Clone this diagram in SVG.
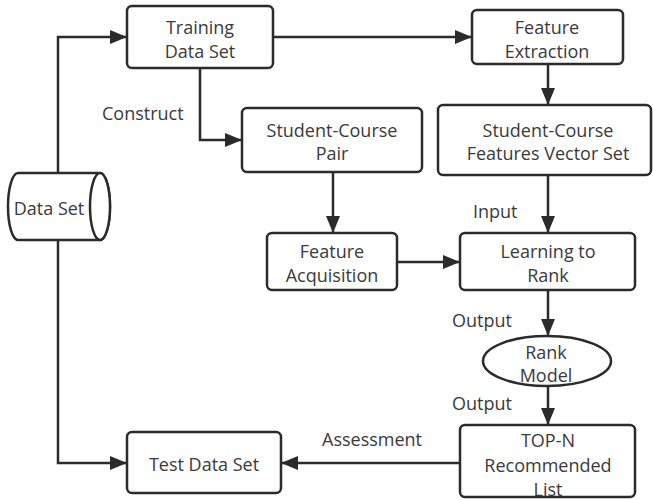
<svg xmlns="http://www.w3.org/2000/svg" width="653" height="500" viewBox="0 0 653 500">
<style>
.n{fill:#fff;stroke:#2b2b2b;stroke-width:2.5}
.c{fill:none;stroke:#2b2b2b;stroke-width:2.5}
text{font-family:"Open Sans","Noto Sans",sans-serif;font-size:18px;fill:#3a3a3a;text-anchor:middle}
.l{text-anchor:start}
</style>
<defs>
<marker id="a" viewBox="0 0 17 14" refX="16" refY="7" markerWidth="17" markerHeight="14" markerUnits="userSpaceOnUse" orient="auto">
<path d="M0,0 L17,7 L0,14 Z" fill="#2b2b2b"/>
</marker>
</defs>
<rect width="653" height="500" fill="#fff"/>
<g id="connectors">
<path class="c" d="M58,173 V37 H126" marker-end="url(#a)"/>
<path class="c" d="M58,240 V463 H126" marker-end="url(#a)"/>
<path class="c" d="M273,37 H471" marker-end="url(#a)"/>
<path class="c" d="M200,68 V140 H241" marker-end="url(#a)"/>
<path class="c" d="M333,172 V232" marker-end="url(#a)"/>
<path class="c" d="M548,64 V104" marker-end="url(#a)"/>
<path class="c" d="M548,175 V232" marker-end="url(#a)"/>
<path class="c" d="M397,262 H459" marker-end="url(#a)"/>
<path class="c" d="M548,290 V335" marker-end="url(#a)"/>
<path class="c" d="M548,387 V424" marker-end="url(#a)"/>
<path class="c" d="M460,463 H282" marker-end="url(#a)"/>
<text class="l" x="102" y="120">Construct</text>
<text class="l" x="473" y="218">Input</text>
<text class="l" x="452" y="327">Output</text>
<text class="l" x="452" y="410">Output</text>
<text class="l" x="322" y="446">Assessment</text>
</g>
<g id="dataset">
<path class="n" d="M18,173 H100 A10,33.5 0 0 1 100,240 H18 A10,33.5 0 0 1 18,173 Z"/>
<ellipse class="n" cx="100" cy="206.5" rx="10" ry="33.5"/>
<text x="49" y="215">Data Set</text>
</g>
<g id="training">
<rect class="n" x="127" y="6" width="146" height="62" rx="5"/>
<text x="200" y="34">Training</text>
<text x="200" y="58">Data Set</text>
</g>
<g id="featureExtraction">
<rect class="n" x="472" y="10" width="151" height="54" rx="5"/>
<text x="547" y="34">Feature</text>
<text x="547" y="58">Extraction</text>
</g>
<g id="scPair">
<rect class="n" x="242" y="108" width="180" height="64" rx="5"/>
<text x="332" y="137">Student-Course</text>
<text x="332" y="160">Pair</text>
</g>
<g id="scfvs">
<rect class="n" x="438" y="105" width="213" height="70" rx="5"/>
<text x="548" y="137">Student-Course</text>
<text x="548" y="160">Features Vector Set</text>
</g>
<g id="featureAcq">
<rect class="n" x="267" y="233" width="130" height="57" rx="5"/>
<text x="332" y="258">Feature</text>
<text x="332" y="282">Acquisition</text>
</g>
<g id="ltr">
<rect class="n" x="460" y="233" width="175" height="57" rx="5"/>
<text x="548" y="258">Learning to</text>
<text x="548" y="282">Rank</text>
</g>
<g id="rankModel">
<ellipse class="n" cx="547" cy="361" rx="64" ry="25"/>
<text x="546" y="359">Rank</text>
<text x="546" y="382">Model</text>
</g>
<g id="topn">
<rect class="n" x="460" y="425" width="175" height="72" rx="5"/>
<text x="548" y="447">TOP-N</text>
<text x="548" y="472">Recommended</text>
<text x="548" y="496">List</text>
</g>
<g id="test">
<rect class="n" x="127" y="432" width="154" height="61" rx="5"/>
<text x="204" y="471">Test Data Set</text>
</g>
</svg>
